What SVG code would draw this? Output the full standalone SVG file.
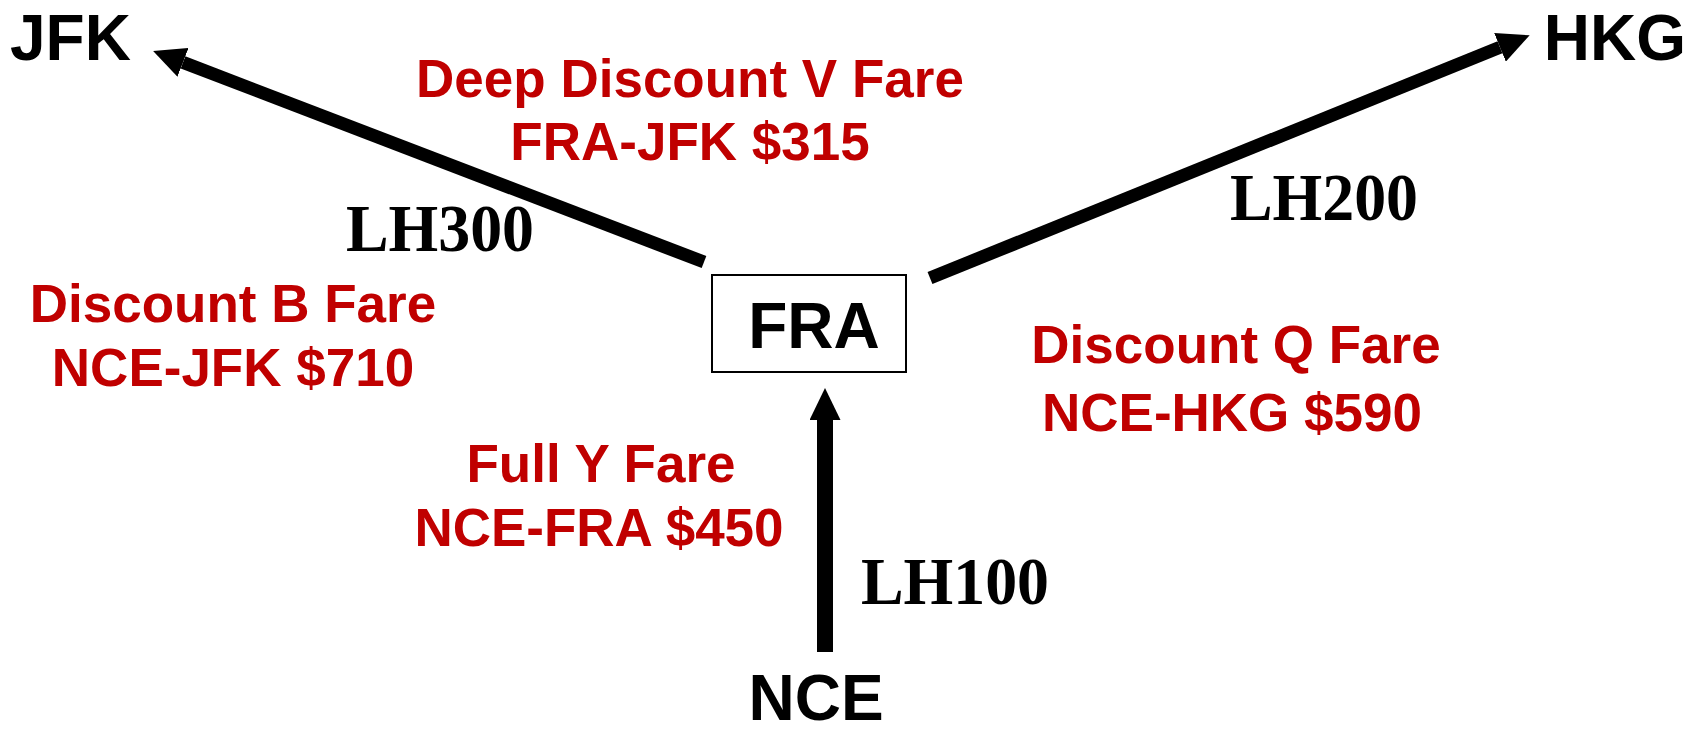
<svg xmlns="http://www.w3.org/2000/svg" width="1700" height="734" viewBox="0 0 1700 734">
  <style>
    .city { font-family: "Liberation Sans", Arial, sans-serif; font-weight: bold; font-size: 64px; fill: #000; }
    .fare { font-family: "Liberation Sans", Arial, sans-serif; font-weight: bold; font-size: 53px; fill: #C00000; text-anchor: middle; }
    .flt { font-family: "Liberation Serif", "Times New Roman", serif; font-weight: bold; font-size: 67px; fill: #000; text-anchor: middle; }
    .conn { stroke: #000; fill: none; stroke-linecap: butt; }
  </style>
  <defs>
    <marker id="head" markerUnits="userSpaceOnUse" markerWidth="32" markerHeight="31" refX="0" refY="15.5" orient="auto" viewBox="0 0 32 31">
      <path d="M0,0 L32,15.5 L0,31 Z" fill="#000"/>
    </marker>
  </defs>
  <rect width="1700" height="734" fill="#fff"/>

  <g id="connectors">
    <line class="conn" x1="704" y1="262" x2="183" y2="62.4" stroke-width="13" marker-end="url(#head)"/>
    <line class="conn" x1="930" y1="278" x2="1500" y2="47.3" stroke-width="13" marker-end="url(#head)"/>
    <line class="conn" x1="825" y1="652" x2="825" y2="420" stroke-width="16" marker-end="url(#head)"/>
  </g>

  <g id="node-JFK">
    <text class="city" x="10" y="60">JFK</text>
  </g>
  <g id="node-HKG">
    <text class="city" x="1686" y="60" text-anchor="end">HKG</text>
  </g>
  <g id="node-FRA">
    <rect x="712" y="275" width="194" height="97" fill="#fff" stroke="#000" stroke-width="2"/>
    <text class="city" x="814" y="348" text-anchor="middle">FRA</text>
  </g>
  <g id="node-NCE">
    <text class="city" x="816" y="720" text-anchor="middle">NCE</text>
  </g>

  <g id="labels-flights">
    <text class="flt" x="440" y="251" textLength="188" lengthAdjust="spacingAndGlyphs">LH300</text>
    <text class="flt" x="1324" y="220" textLength="188" lengthAdjust="spacingAndGlyphs">LH200</text>
    <text class="flt" x="955" y="604" textLength="188" lengthAdjust="spacingAndGlyphs">LH100</text>
  </g>

  <g id="labels-fares">
    <text class="fare" x="690" y="97">Deep Discount V Fare</text>
    <text class="fare" x="690" y="160">FRA-JFK $315</text>
    <text class="fare" x="233" y="322">Discount B Fare</text>
    <text class="fare" x="233" y="386">NCE-JFK $710</text>
    <text class="fare" x="601" y="482">Full Y Fare</text>
    <text class="fare" x="599" y="546">NCE-FRA $450</text>
    <text class="fare" x="1236" y="363">Discount Q Fare</text>
    <text class="fare" x="1232" y="431">NCE-HKG $590</text>
  </g>
</svg>
